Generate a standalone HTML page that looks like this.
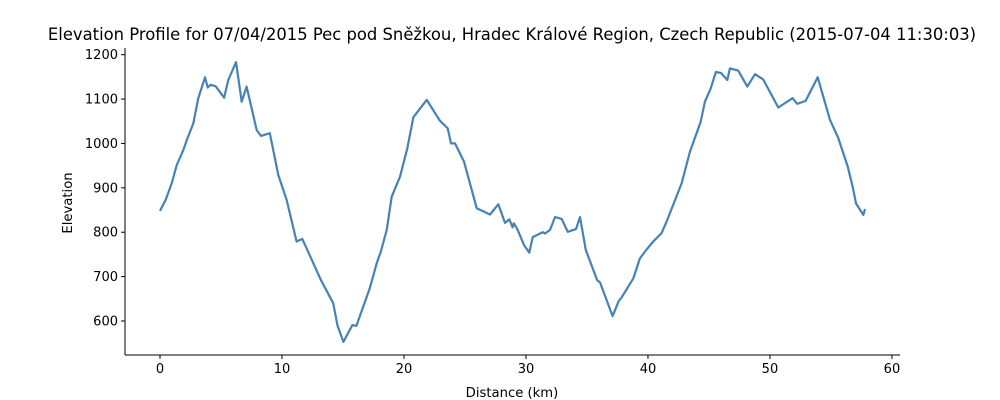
<!DOCTYPE html>
<html><head><meta charset="utf-8">
<style>
html,body{margin:0;padding:0;background:#fff;}
svg{display:block;font-family:"DejaVu Sans","Liberation Sans",sans-serif;}
</style></head>
<body>
<svg id="chart" width="1000" height="400">
<text x="512" y="40" text-anchor="middle" font-size="16.4" fill="#000">Elevation Profile for 07/04/2015 Pec pod Sněžkou, Hradec Králové Region, Czech Republic (2015-07-04 11:30:03)</text>
<g id="axes"></g>
<path id="line" fill="none" stroke="#4682b4" stroke-width="2.2" stroke-linejoin="round"></path>
<text x="512" y="397" text-anchor="middle" font-size="13.2">Distance (km)</text>
<text transform="translate(72,203) rotate(-90)" text-anchor="middle" font-size="13.2">Elevation</text>
</svg>
<script>
const distances = [0,0.47,0.96,1.37,1.91,2.24,2.73,3.14,3.69,3.91,4.15,4.56,5.25,5.6,6.23,6.7,7.1,7.93,8.28,9.0,9.7,10.38,11.2,11.66,13.2,14.2,14.56,15.03,15.77,16.1,17.2,17.76,18.1,18.58,18.99,19.67,20.27,20.77,21.86,22.95,23.58,23.85,24.18,24.92,25.96,27.05,27.73,28.28,28.63,28.9,29.0,29.29,29.84,30.27,30.55,31.37,31.56,31.97,32.38,32.93,33.42,34.1,34.43,34.9,35.84,36.07,37.1,37.62,37.79,38.8,39.34,39.89,40.43,41.12,41.53,42.76,43.44,44.32,44.67,45.14,45.57,45.98,46.5,46.72,47.4,48.14,48.77,49.45,50.68,51.86,52.24,52.93,53.91,54.92,55.6,56.37,56.78,57.05,57.65,57.79];
const elevations = [848,873,910,951,985,1011,1045,1102,1149,1126,1132,1129,1103,1143,1183,1094,1128,1030,1017,1023,929,873,779,785,692,640,589,553,591,589,674,730,756,805,880,925,989,1059,1098,1051,1034,1000,1000,959,854,840,863,821,829,811,820,807,771,754,789,800,797,805,834,830,801,807,834,760,692,687,611,646,651,696,741,761,779,798,824,910,981,1049,1094,1124,1161,1159,1143,1169,1164,1128,1156,1144,1081,1102,1089,1096,1149,1053,1012,948,902,865,839,852];
const xTicks = [0,10,20,30,40,50,60];
const yTicks = [600,700,800,900,1000,1100,1200];

const L=125,R=900,T=48,B=355;
const X0=-2.87,X1=60.66,Y0=523.4,Y1=1215;
function sx(v){return L+(v-X0)/(X1-X0)*(R-L);}
function sy(v){return B-(v-Y0)/(Y1-Y0)*(B-T);}
const NS="http://www.w3.org/2000/svg";
const axes=document.getElementById('axes');
function mk(tag,attrs){const e=document.createElementNS(NS,tag);for(const k in attrs)e.setAttribute(k,attrs[k]);axes.appendChild(e);return e;}
const sl=mk('line',{x1:L,y1:T,x2:L,y2:B,stroke:'#000','stroke-width':1});


const sb=mk('line',{x1:L,y1:B,x2:R,y2:B,stroke:'#000','stroke-width':1});


xTicks.forEach(t=>{
  const x=sx(t);
  const tk=mk('line',{x1:x,y1:B,x2:x,y2:B+4,stroke:'#000','stroke-width':1});
  
  
  const lb=mk('text',{x:x,y:B+18,'text-anchor':'middle','font-size':13});
  lb.textContent=t;
  
  
});
yTicks.forEach(t=>{
  const y=sy(t);
  const tk=mk('line',{x1:L-4,y1:y,x2:L,y2:y,stroke:'#000','stroke-width':1});
  
  
  const lb=mk('text',{x:L-7,y:y+4.5,'text-anchor':'end','font-size':13});
  lb.textContent=t;
  
  
});
document.getElementById('line').setAttribute('d',distances.map((d,i)=>(i?'L':'M')+sx(d).toFixed(1)+','+sy(elevations[i]).toFixed(1)).join(''));
</script>
</body></html>
